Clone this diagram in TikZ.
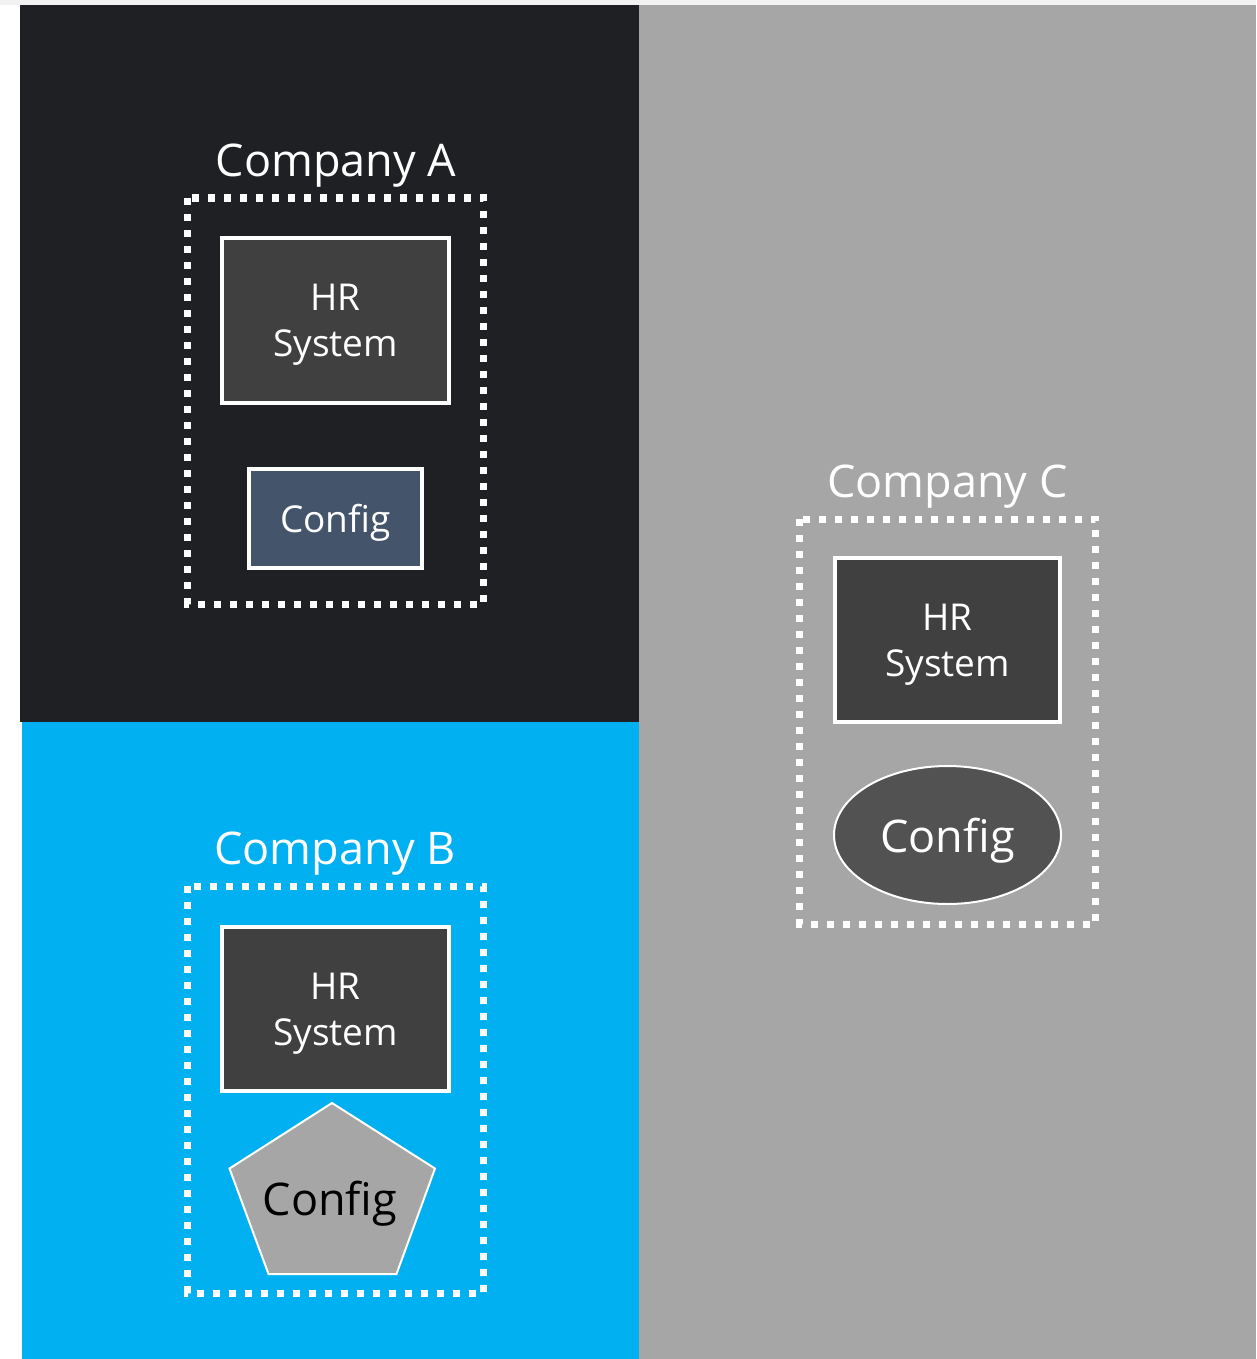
\documentclass[tikz,border=0pt]{standalone}
\usepackage{fontspec}
\setmainfont{Open Sans}
\usetikzlibrary{shapes.geometric}

\definecolor{stripgray}{HTML}{F2F2F2}
\definecolor{panelA}{HTML}{1E2024}
\definecolor{panelB}{HTML}{00B0F0}
\definecolor{panelC}{HTML}{A6A6A6}
\definecolor{sysfill}{HTML}{404040}
\definecolor{cfgblue}{HTML}{44546A}
\definecolor{cfgdark}{HTML}{525252}

\tikzset{
  title/.style={text=white, font=\fontsize{45}{54}\selectfont, inner sep=0pt,
    text depth=0pt},
  sysbox/.style={draw=white, line width=4pt, fill=sysfill, text=white,
    minimum width=227pt, minimum height=165pt, inner sep=0pt, align=center,
    text depth=0pt, font=\fontsize{37}{46}\selectfont},
  cfgbox/.style={draw=white, line width=4pt, fill=cfgblue, text=white,
    minimum width=173pt, minimum height=99pt, inner sep=0pt, text depth=0pt,
    font=\fontsize{37}{46}\selectfont},
  cfgoval/.style={ellipse, draw=white, line width=2pt, fill=cfgdark, text=white,
    minimum width=227pt, minimum height=138pt, inner sep=0pt, text depth=0pt,
    font=\fontsize{45}{54}\selectfont},
  cfgtext/.style={inner sep=0pt, text depth=0pt, font=\fontsize{45}{54}\selectfont},
  groupframe/.style={draw=white, line width=7pt, dash pattern=on 7pt off 9pt},
}

\begin{document}
\begin{tikzpicture}[x=1pt, y=-1pt]
  \useasboundingbox (0,0) rectangle (1256,1359);
  % backdrop panels
  \fill[white] (0,0) rectangle (1256,1359);
  \fill[stripgray] (0,0) rectangle (1256,5);
  \fill[panelA] (20,5) rectangle (639,722);
  \fill[panelB] (22,722) rectangle (639,1359);
  \fill[panelC] (639,5) rectangle (1256,1359);

  % Company A
  \node[title] (titleA) at (336,160) {Company A};
  \draw[groupframe] (187.5,198) rectangle (483,604);
  \node[sysbox] (hrA) at (335.5,320.5) {HR\\System};
  \node[cfgbox] (cfgA) at (335.5,518.5) {Config};

  % Company B
  \node[title] (titleB) at (335,848) {Company B};
  \draw[groupframe] (187.5,886) rectangle (483,1293);
  \node[sysbox, minimum height=164pt] (hrB) at (335.5,1009) {HR\\System};
  \coordinate (pTop) at (332,1103);
  \coordinate (pRight) at (435,1168.5);
  \coordinate (pBotR) at (396.5,1274);
  \coordinate (pBotL) at (268.5,1274);
  \coordinate (pLeft) at (229.5,1168.5);
  \draw[white, line width=2pt, fill=panelC, line join=miter]
    (pTop) -- (pRight) -- (pBotR) -- (pBotL) -- (pLeft) -- cycle;
  \node[cfgtext, text=black] (cfgB) at (330,1198) {Config};

  % Company C
  \node[title] (titleC) at (947.5,481) {Company C};
  \draw[groupframe] (799.5,519) rectangle (1095.5,924);
  \node[sysbox, minimum width=225pt, minimum height=164pt] (hrC) at (947.5,640) {HR\\System};
  \node[cfgoval] (cfgC) at (947.5,835) {Config};
\end{tikzpicture}
\end{document}
